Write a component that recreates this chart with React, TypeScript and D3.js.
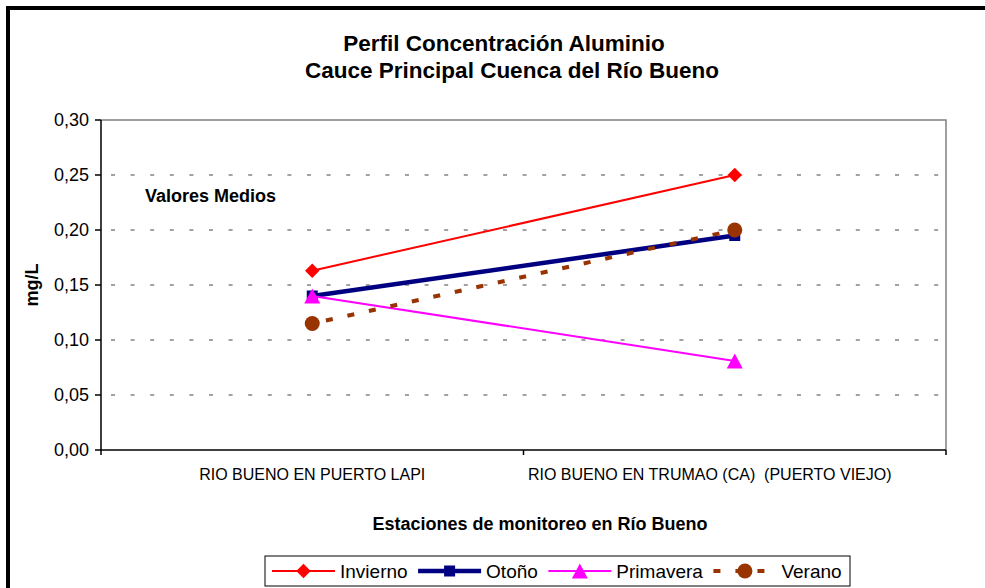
import React from 'react';
import * as d3 from 'd3';

// station names (x categories) and mean values per season
const categories = ['RIO BUENO EN PUERTO LAPI', 'RIO BUENO EN TRUMAO (CA)  (PUERTO VIEJO)'];
const invierno = [0.163, 0.25];
const otono = [0.14, 0.195];
const primavera = [0.14, 0.081];
const verano = [0.115, 0.2];
const yTicks = [0, 0.05, 0.1, 0.15, 0.2, 0.25, 0.3];
const seriesNames = ['Invierno', 'Otoño', 'Primavera', 'Verano'];

const FONT = 'Arial, "Liberation Sans", sans-serif';

const series = [
  { name: seriesNames[0], values: invierno, color: '#FF0000', width: 2, dash: null, marker: 'diamond' },
  { name: seriesNames[1], values: otono, color: '#000080', width: 4.5, dash: null, marker: 'square' },
  { name: seriesNames[2], values: primavera, color: '#FF00FF', width: 2, dash: null, marker: 'triangle' },
  { name: seriesNames[3], values: verano, color: '#993300', width: 4, dash: '7,15', marker: 'circle' },
];

const markerPath = (kind) => {
  if (kind === 'diamond') return d3.symbol().type(d3.symbolSquare).size(104)();
  if (kind === 'square') return d3.symbol().type(d3.symbolSquare).size(121)();
  if (kind === 'triangle') return 'M0,-7.5L8,7.5L-8,7.5Z';
  return d3.symbol().type(d3.symbolCircle).size(177)();
};

const Marker = ({ kind, x, y, color }) => (
  <path
    d={markerPath(kind)}
    fill={color}
    transform={`translate(${x},${y})${kind === 'diamond' ? ' rotate(45)' : ''}`}
  />
);

function textWidth(text, font) {
  const canvas = textWidth.canvas || (textWidth.canvas = document.createElement('canvas'));
  const ctx = canvas.getContext('2d');
  ctx.font = font;
  return ctx.measureText(text).width;
}

const App = () => {
  const width = 985;
  const height = 588;
  const plot = { left: 101, right: 946, top: 120, bottom: 450 };

  const x = d3.scaleBand().domain(categories).range([plot.left, plot.right]).padding(0);
  const y = d3.scaleLinear().domain([0, 0.3]).range([plot.bottom, plot.top]);
  const fmt = (v) => d3.format('.2f')(v).replace('.', ',');
  const line = d3
    .line()
    .x((d, i) => x(categories[i]) + x.bandwidth() / 2)
    .y((d) => y(d));
  // the long station label sits a bit left of its band centre in the original
  const labelShift = [0, -25];

  // legend layout
  const legendFont = `19px ${FONT}`;
  let lx = 272;
  const legendItems = series.map((s) => {
    const item = { ...s, x: lx };
    lx += 63 + 5 + textWidth(s.name, legendFont) + 10.5;
    return item;
  });

  return (
    <svg width={width} height={height} style={{ position: 'absolute', left: 0, top: 0 }} fontFamily={FONT}>
      <rect x={0} y={0} width={width} height={height} fill="#fff" />
      {/* outer frame, only top and left visible */}
      <path d={`M8,${height + 10}V8H${width + 10}`} fill="none" stroke="#000" strokeWidth={4} />

      <text x={504} y={51} textAnchor="middle" fontSize={22.5} fontWeight="bold">
        Perfil Concentración Aluminio
      </text>
      <text x={512} y={78} textAnchor="middle" fontSize={22.5} fontWeight="bold">
        Cauce Principal Cuenca del Río Bueno
      </text>

      {/* grid */}
      {yTicks.slice(1, -1).map((t) => (
        <line
          key={t}
          x1={plot.left}
          x2={plot.right}
          y1={y(t)}
          y2={y(t)}
          stroke="#444"
          strokeWidth={1}
          strokeDasharray="4,15.6"
          strokeDashoffset={-10}
        />
      ))}
      <path d={`M${plot.left},${plot.top}H${plot.right}V${plot.bottom}`} fill="none" stroke="#808080" strokeWidth={1.5} />
      <path d={`M${plot.left},${plot.top}V${plot.bottom}H${plot.right}`} fill="none" stroke="#000" strokeWidth={1.5} />

      {/* y axis */}
      {yTicks.map((t) => (
        <g key={t}>
          <line x1={plot.left - 6} x2={plot.left} y1={y(t)} y2={y(t)} stroke="#000" strokeWidth={1.5} />
          <text x={89} y={y(t)} dy="0.35em" textAnchor="end" fontSize={18}>
            {fmt(t)}
          </text>
        </g>
      ))}
      {/* x axis */}
      {[...categories.map((c) => x(c)), plot.right].map((v, i) => (
        <line key={i} x1={v} x2={v} y1={plot.bottom} y2={plot.bottom + 5} stroke="#000" strokeWidth={1.5} />
      ))}
      {categories.map((c, i) => (
        <text
          key={c}
          x={x(c) + x.bandwidth() / 2 + labelShift[i]}
          y={480}
          textAnchor="middle"
          fontSize={16}
          style={{ whiteSpace: 'pre' }}
        >
          {c}
        </text>
      ))}

      <text x={540} y={530} textAnchor="middle" fontSize={18} fontWeight="bold">
        Estaciones de monitoreo en Río Bueno
      </text>
      <text transform="translate(38,285) rotate(-90)" textAnchor="middle" fontSize={18} fontWeight="bold">
        mg/L
      </text>
      <text x={145} y={202} fontSize={18} fontWeight="bold">
        Valores Medios
      </text>

      {/* series */}
      {series.map((s) => (
        <g key={s.name}>
          <path
            d={line(s.values)}
            fill="none"
            stroke={s.color}
            strokeWidth={s.width}
            strokeDasharray={s.dash || undefined}
            strokeDashoffset={s.dash ? -14 : undefined}
          />
          {s.values.map((v, i) => (
            <Marker
              key={i}
              kind={s.marker}
              x={x(categories[i]) + x.bandwidth() / 2}
              y={y(v)}
              color={s.color}
            />
          ))}
        </g>
      ))}

      {/* legend */}
      <rect x={265} y={556} width={585} height={30} fill="#fff" stroke="#000" strokeWidth={1} />
      {legendItems.map((s) => (
        <g key={s.name}>
          <line
            x1={s.x}
            x2={s.x + 63}
            y1={571}
            y2={571}
            stroke={s.color}
            strokeWidth={s.width}
            strokeDasharray={s.dash || undefined}
          />
          <Marker kind={s.marker} x={s.x + 31.5} y={571} color={s.color} />
          <text x={s.x + 68} y={578} fontSize={19}>
            {s.name}
          </text>
        </g>
      ))}
    </svg>
  );
};

export default App;
